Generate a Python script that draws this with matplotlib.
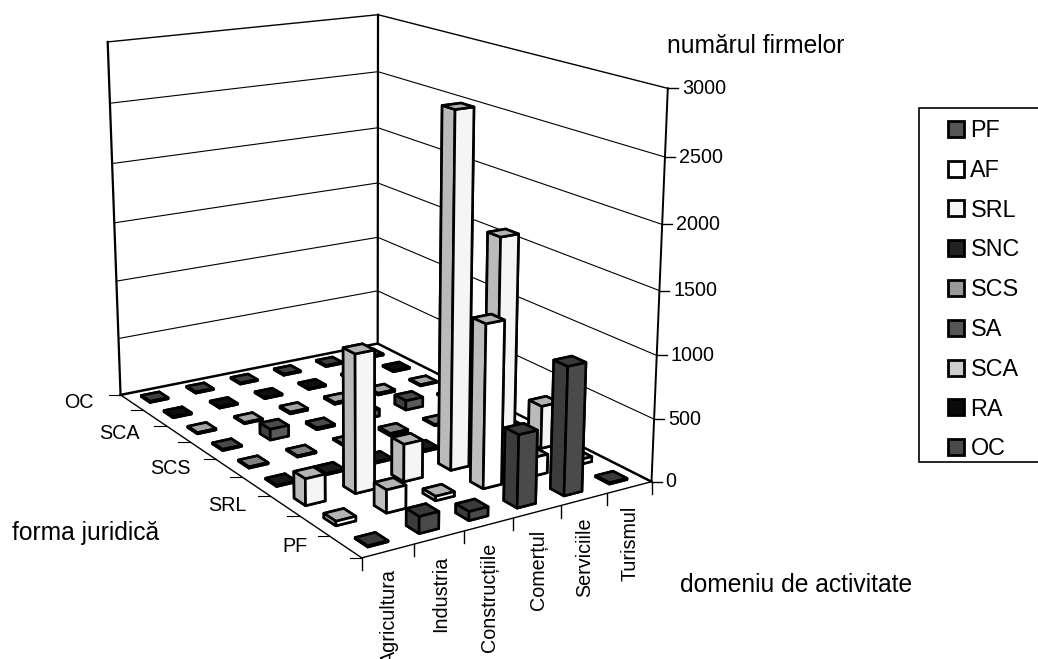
import numpy as np
import matplotlib
matplotlib.use('Agg')
import matplotlib.pyplot as plt
from matplotlib.lines import Line2D
from matplotlib.patches import Patch, Rectangle

plt.rcParams['font.family'] = ['Liberation Sans', 'DejaVu Sans']

# Chart data (number of firms)
domains = ['Agricultura', 'Industria', 'Construcțiile', 'Comerțul', 'Serviciile', 'Turismul']
forms = ['PF', 'AF', 'SRL', 'SNC', 'SCS', 'SA', 'SCA', 'RA', 'OC']
form_ticks = ['PF', '', 'SRL', '', 'SCS', '', 'SCA', '', 'OC']
z_ticks = [0, 500, 1000, 1500, 2000, 2500, 3000]

pf = [8, 130, 70, 570, 1010, 10]
af = [35, 180, 35, 1290, 150, 40]
srl = [210, 1090, 300, 2800, 1780, 350]
snc = [8, 10, 10, 15, 10, 10]
scs = [10, 10, 10, 20, 10, 10]
sa = [10, 90, 15, 60, 80, 10]
sca = [10, 10, 15, 15, 15, 10]
ra = [10, 10, 10, 10, 10, 10]
oc = [10, 10, 10, 10, 10, 10]
values = [pf, af, srl, snc, scs, sa, sca, ra, oc]

# Face greys per series: top, left side (-x), right side (-y)
face_cols = {
    'PF': ('#3a3a3a', '#3c3c3c', '#4a4a4a'),
    'AF': ('#b4b4b4', '#bdbdbd', '#ffffff'),
    'SRL': ('#b4b4b4', '#bababa', '#f5f5f5'),
    'SNC': ('#1a1a1a', '#1a1a1a', '#222222'),
    'SCS': ('#808080', '#707070', '#8c8c8c'),
    'SA': ('#4a4a4a', '#404040', '#5a5a5a'),
    'SCA': ('#a5a5a5', '#909090', '#b4b4b4'),
    'RA': ('#0f0f0f', '#0f0f0f', '#0f0f0f'),
    'OC': ('#404040', '#383838', '#4a4a4a'),
}
legend_cols = ['#555555', '#ffffff', '#f5f5f5', '#222222', '#999999',
               '#555555', '#cccccc', '#0a0a0a', '#4a4a4a']

W, H = 1038, 659
L = 689.74
fig = plt.figure(figsize=(W / 100, H / 100), dpi=100)
ax = fig.add_axes([16.64 / W, 50.10 / H, L / W, L / H], projection='3d')
ax.set_xlim(0, 6, view_margin=0)
ax.set_ylim(0, 9, view_margin=0)
ax.set_zlim(0, 3000, view_margin=0)
ax.view_init(elev=15.9778, azim=-122.0849)
ax.set_proj_type('persp', focal_length=0.5377)
ax.set_box_aspect((0.8534, 1.2832, 1))
ax.set_axis_off()
ax.computed_zorder = False
ax.apply_aspect()


def to_px(x, y, z):
    h = ax.get_proj() @ np.array([x, y, z, 1.0])
    return ax.transData.transform((h[0] / h[3], h[1] / h[3]))


def px_line(p0, p1, lw=1.0):
    fig.add_artist(Line2D([p0[0] / W, p1[0] / W], [p0[1] / H, p1[1] / H],
                          transform=fig.transFigure, color='black', lw=lw))


nx, ny = len(domains), len(forms)
ztop = z_ticks[-1]

# walls gridlines
for z in z_ticks[1:-1]:
    ax.plot([0, nx, nx], [ny, ny, 0], [z, z, z], color='black', lw=0.8, zorder=1)

# wall and floor frame
ax.plot([0, 0, nx, nx], [ny, ny, ny, 0], [ztop, ztop, ztop, ztop], color='black', lw=1.0, zorder=2)
ax.plot([0, 0], [ny, ny], [0, ztop], color='black', lw=1.6, zorder=2)
ax.plot([nx, nx], [ny, ny], [0, ztop], color='black', lw=1.6, zorder=2)
ax.plot([nx, nx], [0, 0], [0, ztop], color='black', lw=1.4, zorder=2)
ax.plot([0, nx, nx], [ny, ny, 0], [0, 0, 0], color='black', lw=1.8, zorder=2)
ax.plot([0, nx], [0, 0], [0, 0], color='black', lw=1.0, zorder=2)
ax.plot([0, 0], [0, ny], [0, 0], color='black', lw=1.0, zorder=2)

# bars, back to front so they overlap properly
bar_w = 0.39
off = (1 - bar_w) / 2
order = 3
for j in range(ny - 1, -1, -1):
    top, left, right = face_cols[forms[j]]
    for i in range(nx - 1, -1, -1):
        # bar3d face order: bottom, top, -y, +y, -x, +x
        ax.bar3d(i + off, j + off, 0, bar_w, bar_w, values[j][i],
                 color=[top, top, right, right, left, left],
                 edgecolor='black', linewidth=1.9, shade=False, zorder=order)
        order += 1

# value axis ticks
for z in z_ticks:
    p = to_px(nx, 0, z)
    px_line(p, p + [10, 0])
    fig.text((p[0] + 14) / W, p[1] / H, str(z), fontsize=14.2, ha='left', va='center')

# domain axis ticks
for i in range(nx + 1):
    p = to_px(i, 0, 0)
    px_line(p, p - [0, 12])
for i, name in enumerate(domains):
    p = to_px(i + 0.5, 0, 0)
    fig.text((p[0] + 1) / W, (p[1] - 18) / H, name, fontsize=14.2, rotation=90, ha='center', va='top')

# form axis ticks
for j in range(ny + 1):
    p = to_px(0, j, 0)
    px_line(p, p - [12, 0], lw=0.8)
for j, name in enumerate(form_ticks):
    if name:
        p = to_px(0, j + 0.5, 0)
        fig.text((p[0] - 38) / W, p[1] / H, name, fontsize=14.2, ha='right', va='center')

fig.text(667 / W, 1 - 46 / H, 'numărul firmelor', fontsize=17.7, ha='left', va='center')
fig.text(12 / W, 1 - 533 / H, 'forma juridică', fontsize=17.7, ha='left', va='center')
fig.text(680 / W, 1 - 585 / H, 'domeniu de activitate', fontsize=17.7, ha='left', va='center')

# legend box runs off the right edge of the picture
fig.add_artist(Rectangle((919 / W, 1 - 462 / H), 130 / W, 354 / H, transform=fig.transFigure,
                         facecolor='white', edgecolor='black', lw=1.2))
handles = [Patch(facecolor=c, edgecolor='black', lw=2.0) for c in legend_cols]
fig.legend(handles, forms, loc='upper left', bbox_to_anchor=(948 / W, 1 - 119 / H),
           borderaxespad=0, borderpad=0, fontsize=16.8, frameon=False,
           handlelength=0.68, handleheight=0.68, handletextpad=0.28, labelspacing=0.72)

fig.savefig('out.png', dpi=100)
